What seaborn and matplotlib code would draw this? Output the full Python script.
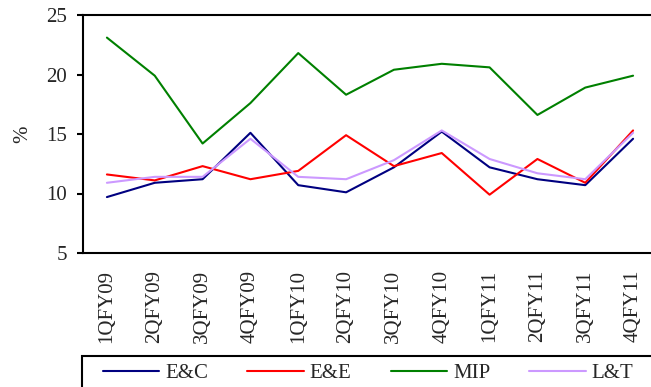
import matplotlib
matplotlib.use("Agg")
import matplotlib.pyplot as plt
from matplotlib.lines import Line2D
from matplotlib.patches import Rectangle
import numpy as np
import pandas as pd
import seaborn as sns

# Quarterly margins (%) by segment
quarters = ["1QFY09", "2QFY09", "3QFY09", "4QFY09", "1QFY10", "2QFY10",
            "3QFY10", "4QFY10", "1QFY11", "2QFY11", "3QFY11", "4QFY11"]
ec = [9.7, 10.9, 11.2, 15.1, 10.7, 10.1, 12.2, 15.2, 12.2, 11.2, 10.7, 14.6]
ee = [11.6, 11.1, 12.3, 11.2, 11.9, 14.9, 12.3, 13.4, 9.9, 12.9, 10.9, 15.3]
mip = [23.1, 19.9, 14.2, 17.6, 21.8, 18.3, 20.4, 20.9, 20.6, 16.6, 18.9, 19.9]
lt = [10.9, 11.4, 11.4, 14.6, 11.4, 11.2, 12.8, 15.3, 12.9, 11.7, 11.2, 15.1]

series_names = ["E&C", "E&E", "MIP", "L&T"]
series_values = [ec, ee, mip, lt]
colors = {"E&C": "#000080", "E&E": "#FF0000", "MIP": "#008000", "L&T": "#CC99FF"}

df = pd.DataFrame({
    "quarter": quarters * len(series_names),
    "pos": list(range(len(quarters))) * len(series_names),
    "segment": [n for n in series_names for _ in quarters],
    "value": [v for vals in series_values for v in vals],
})

sns.set_style("white")
plt.rcParams["font.family"] = ["Liberation Serif", "DejaVu Serif"]
plt.rcParams["mathtext.fontset"] = "custom"

W, H = 651, 387
fig = plt.figure(figsize=(W / 100, H / 100), dpi=100)
ax = fig.add_axes([83 / W, 1 - 253 / H, (657 - 83) / W, (253 - 15) / H])

sns.lineplot(data=df, x="pos", y="value", hue="segment", palette=colors,
             hue_order=series_names, linewidth=1.5, ax=ax, legend=False,
             sort=False)

ax.set_xlim(-0.5, len(quarters) - 0.5)
ax.set_ylim(5, 25)
ax.set_yticks([5, 10, 15, 20, 25])
ax.set_xticks(range(len(quarters)))
ax.set_xticklabels(quarters, rotation=90, fontsize=15)
ax.set_xticks(np.arange(-0.5, len(quarters), 1.0), minor=True)
ax.tick_params(axis="x", which="major", length=0, pad=12)
ax.tick_params(axis="x", which="minor", length=4, width=1.5, direction="out",
               color="black")
ax.tick_params(axis="y", which="major", length=4.5, width=1.5, direction="out",
               color="black", pad=7, labelsize=15, left=True)
ax.set_xlabel("")
ax.set_ylabel("%", fontsize=15, labelpad=10)

for side in ["left", "bottom", "top", "right"]:
    ax.spines[side].set_visible(True)
    ax.spines[side].set_color("black")
    ax.spines[side].set_linewidth(1.5)
ax.grid(False)

# Legend in a box under the axis
handles = [Line2D([], [], color=colors[n], lw=1.5) for n in series_names]
fig.legend(handles, series_names, loc="center left",
           bbox_to_anchor=(103 / W, 1 - 373 / H), ncol=4, frameon=False,
           fontsize=15, handlelength=2.7, handletextpad=0.3,
           columnspacing=1.87, borderpad=0, borderaxespad=0)
fig.add_artist(Rectangle((82 / W, -0.2), (680 - 82) / W, (1 - 356 / H) + 0.2,
                         transform=fig.transFigure, fill=False,
                         edgecolor="black", linewidth=1.5, clip_on=False))

fig.savefig("out.png", dpi=100)
